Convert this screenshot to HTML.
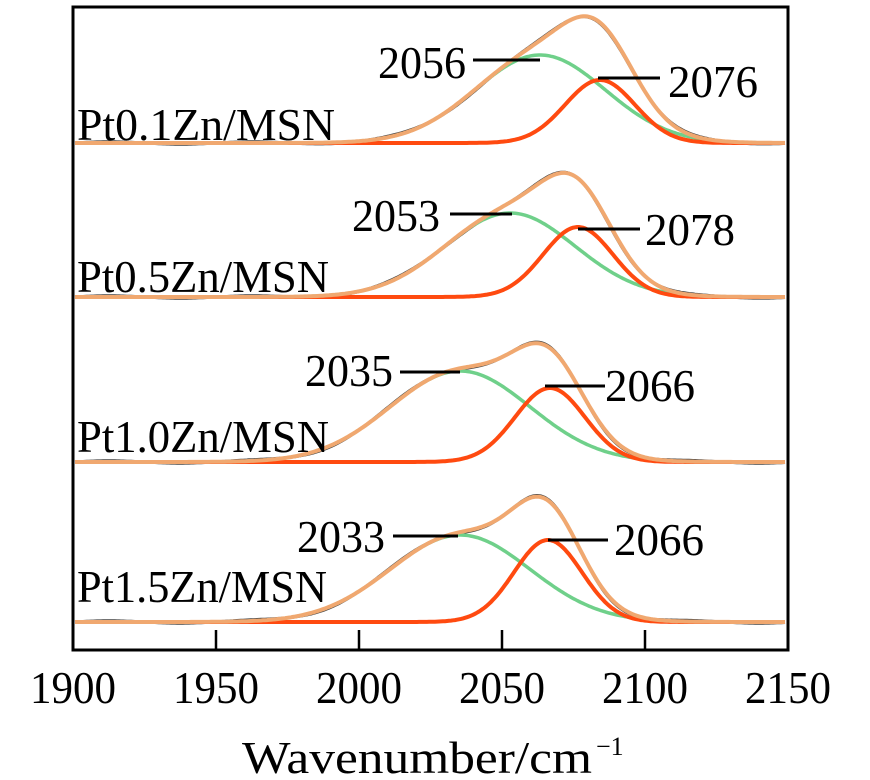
<!DOCTYPE html>
<html><head><meta charset="utf-8"><style>
html,body{margin:0;padding:0;background:#fff;}
svg{display:block;font-family:"Liberation Serif",serif;}
</style></head><body>
<svg id="s" width="870" height="780" xmlns="http://www.w3.org/2000/svg">
<g id="curves"></g>
<rect x="73" y="7" width="715" height="643" fill="none" stroke="#000" stroke-width="3"/>
<g stroke="#000" stroke-width="2.5">
<line x1="216" y1="650" x2="216" y2="630"/><line x1="359" y1="650" x2="359" y2="630"/>
<line x1="502" y1="650" x2="502" y2="630"/><line x1="645" y1="650" x2="645" y2="630"/>
</g>
<g font-size="46" fill="#000">
<text x="30" y="703" textLength="86" lengthAdjust="spacingAndGlyphs">1900</text>
<text x="173" y="703" textLength="86" lengthAdjust="spacingAndGlyphs">1950</text>
<text x="316" y="703" textLength="86" lengthAdjust="spacingAndGlyphs">2000</text>
<text x="459" y="703" textLength="86" lengthAdjust="spacingAndGlyphs">2050</text>
<text x="602" y="703" textLength="86" lengthAdjust="spacingAndGlyphs">2100</text>
<text x="745" y="703" textLength="86" lengthAdjust="spacingAndGlyphs">2150</text>
<text x="242" y="773" textLength="350" lengthAdjust="spacingAndGlyphs">Wavenumber/cm</text>
<text x="596" y="755" font-size="26">−1</text>
</g>
<g font-size="46" fill="#000">
<text x="77" y="140" textLength="258" lengthAdjust="spacingAndGlyphs">Pt0.1Zn/MSN</text>
<text x="77" y="292" textLength="252" lengthAdjust="spacingAndGlyphs">Pt0.5Zn/MSN</text>
<text x="77" y="452" textLength="252" lengthAdjust="spacingAndGlyphs">Pt1.0Zn/MSN</text>
<text x="77" y="602" textLength="250" lengthAdjust="spacingAndGlyphs">Pt1.5Zn/MSN</text>
<text x="378" y="78" textLength="88" lengthAdjust="spacingAndGlyphs">2056</text>
<text x="668" y="97" textLength="90" lengthAdjust="spacingAndGlyphs">2076</text>
<text x="352" y="231" textLength="88" lengthAdjust="spacingAndGlyphs">2053</text>
<text x="645" y="245" textLength="90" lengthAdjust="spacingAndGlyphs">2078</text>
<text x="305" y="386" textLength="88" lengthAdjust="spacingAndGlyphs">2035</text>
<text x="605" y="401" textLength="90" lengthAdjust="spacingAndGlyphs">2066</text>
<text x="297" y="552" textLength="88" lengthAdjust="spacingAndGlyphs">2033</text>
<text x="614" y="555" textLength="90" lengthAdjust="spacingAndGlyphs">2066</text>
</g>
<g stroke="#000" stroke-width="3">
<line x1="473" y1="60" x2="540" y2="60"/><line x1="598" y1="78" x2="660" y2="78"/>
<line x1="450" y1="214" x2="512" y2="214"/><line x1="578" y1="229" x2="640" y2="229"/>
<line x1="400" y1="372" x2="460" y2="372"/><line x1="545" y1="386" x2="605" y2="386"/>
<line x1="393" y1="536" x2="458" y2="536"/><line x1="548" y1="540" x2="608" y2="540"/>
</g>
</svg>
<script>
var P=[[143,540,88,65,600,63,35],[297,510,84,65,578,70,35],[462,460,91,70,550,74,35],[622,460,87,70,548,82,34]];
var g=document.getElementById('curves'),h='';
P.forEach(function(p){
 var b=p[0],G='',R='',E='',D='';
 for(var x=75;x<=786;x+=2){
  var gv=p[2]*Math.exp(-Math.pow(x-p[1],2)/(2*p[3]*p[3]));
  var rv=p[5]*Math.exp(-Math.pow(x-p[4],2)/(2*p[6]*p[6]));
  var nz=1.2*Math.sin(x/23);
  var c=(x==75?'M':'L');
  G+=c+x+','+(b-gv).toFixed(1);
  R+=c+x+','+(b-rv).toFixed(1);
  E+=c+x+','+(b-gv-rv).toFixed(1);
  D+=c+x+','+(b-gv-rv+nz).toFixed(1);
 }
 h+='<path d="'+D+'" fill="none" stroke="#444" stroke-width="3"/>';
 h+='<path d="'+G+'" fill="none" stroke="#6fd08a" stroke-width="3.5"/>';
 h+='<path d="'+R+'" fill="none" stroke="#ff4a10" stroke-width="4"/>';
 h+='<path d="'+E+'" fill="none" stroke="#f0a870" stroke-width="4"/>';
});
g.innerHTML=h;
</script>
</body></html>
